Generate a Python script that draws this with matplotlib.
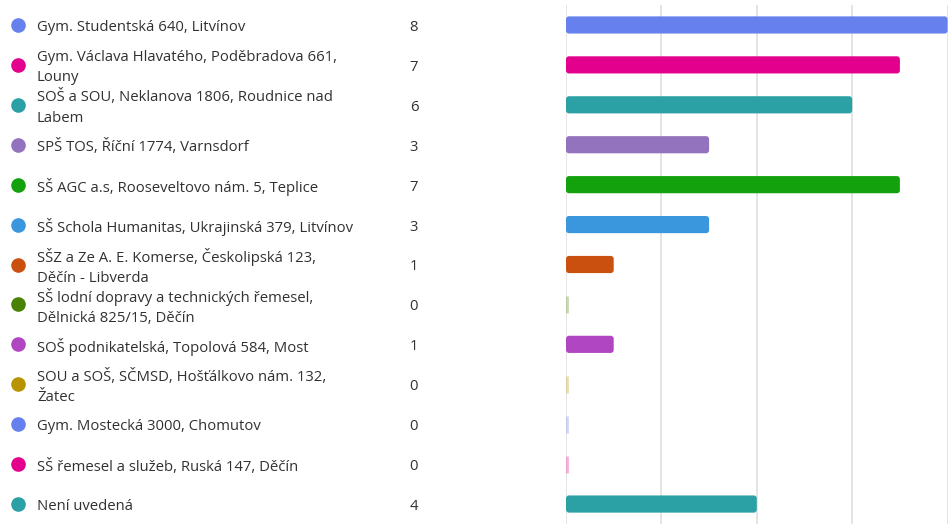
import matplotlib
matplotlib.use("Agg")
import matplotlib.pyplot as plt
from matplotlib.patches import FancyBboxPatch
from matplotlib.transforms import blended_transform_factory, ScaledTranslation

# data
labels = [
    "Gym. Studentská 640, Litvínov",
    "Gym. Václava Hlavatého, Poděbradova 661,\nLouny",
    "SOŠ a SOU, Neklanova 1806, Roudnice nad\nLabem",
    "SPŠ TOS, Říční 1774, Varnsdorf",
    "SŠ AGC a.s, Rooseveltovo nám. 5, Teplice",
    "SŠ Schola Humanitas, Ukrajinská 379, Litvínov",
    "SŠZ a Ze A. E. Komerse, Českolipská 123,\nDěčín - Libverda",
    "SŠ lodní dopravy a technických řemesel,\nDělnická 825/15, Děčín",
    "SOŠ podnikatelská, Topolová 584, Most",
    "SOU a SOŠ, SČMSD, Hošťálkovo nám. 132,\nŽatec",
    "Gym. Mostecká 3000, Chomutov",
    "SŠ řemesel a služeb, Ruská 147, Děčín",
    "Není uvedená",
]
counts = [8, 7, 6, 3, 7, 3, 1, 0, 1, 0, 0, 0, 4]
colors = ["#6680EE", "#E3008C", "#2BA0A5", "#9373BE", "#13A10E", "#3A96DD",
          "#CA5010", "#498205", "#B146C2", "#B89500", "#6680EE", "#E3008C",
          "#2BA0A5"]
grid_ticks = [0, 2, 4, 6, 8]

plt.rcParams['font.family'] = ['Open Sans', 'DejaVu Sans']
text_color = "#323130"

W, H = 952, 524
fig = plt.figure(figsize=(W / 100, H / 100), dpi=100)

# bar area: x 566..947 px, y 5..524 px
ax = fig.add_axes([566 / W, 0, (947.3 - 565.7) / W, 519 / H])
ax.set_xlim(0, 8)
ax.set_ylim(12.5, -0.5)
for s in ax.spines.values():
    s.set_visible(False)
ax.set_xticks(grid_ticks)
ax.set_yticks([])
ax.tick_params(axis='x', length=0, labelbottom=False)
ax.grid(axis='x', color='#e1dfdd', lw=1.2)
ax.set_axisbelow(True)

bar_h = 0.43
x_per_px = 8 / 381.6
y_per_px = 13 / 519
aspect = y_per_px / x_per_px
rad = 3 * x_per_px

for i, (v, c) in enumerate(zip(counts, colors)):
    if v == 0:
        ax.vlines(0.02, i - bar_h / 2, i + bar_h / 2, color=c, lw=2, alpha=0.3)
        continue
    p = FancyBboxPatch((0, i - bar_h / 2), v, bar_h,
                       boxstyle=f"round,pad=0,rounding_size={rad}",
                       mutation_aspect=aspect, fc=c, ec='none', zorder=3)
    ax.add_patch(p)

# left legend list: dot, label, count
tr = blended_transform_factory(fig.transFigure, ax.transData)
tr_txt = tr + ScaledTranslation(0, -2.5 / 100, fig.dpi_scale_trans)
for i, (lab, v, c) in enumerate(zip(labels, counts, colors)):
    ax.plot([18 / W], [i], 'o', ms=9.5, color=c, transform=tr, clip_on=False)
    ax.text(37 / W, i, lab, transform=tr_txt, ha='left', va='center',
            fontsize=10.7, color=text_color, linespacing=1.5)
    ax.text(414 / W, i, str(v), transform=tr_txt, ha='center', va='center',
            fontsize=10.7, color=text_color)

fig.savefig("out.png", dpi=100)
